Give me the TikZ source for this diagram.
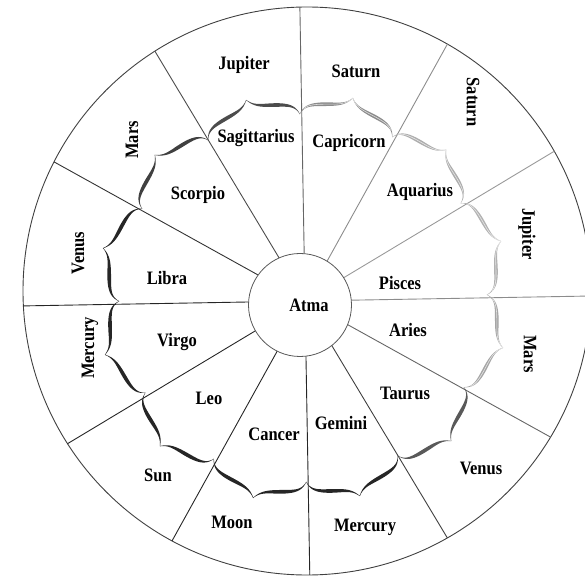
\documentclass[tikz,border=0pt]{standalone}
\usepackage{fontspec}
\setmainfont{Liberation Serif}
\usepackage{graphicx}
\newcommand{\stx}[1]{\scalebox{1}[1.15]{#1}}
\begin{document}
\begin{tikzpicture}[x=1pt,y=1pt,
  declare function={bd(\s)=min(\s,1-\s);
    bf(\s)=0.4*(1-exp(-bd(\s)/0.05))+0.4*bd(\s)+0.4*exp(-(0.5-bd(\s))/0.06);
    bw(\s)=0.5+3.2*sin(360*bd(\s));},
  lab/.style={font=\bfseries\fontsize{16.5}{18}\selectfont, inner sep=0pt},
  ring/.style={draw=black!75, line width=0.9pt}]
\useasboundingbox (0,0) rectangle (585,578);
\coordinate (oc) at (307,287);
\coordinate (ic) at (300,273);
\coordinate (hub) at (305,277);
% outer circle
\draw[ring] (oc) circle[radius=284];
% spokes
\begin{scope}
\clip (oc) circle[radius=284];
\foreach \t/\c in {0/black!45,30/black!40,60/black!45,90/black!60,120/black!70,150/black!80,180/black!85,210/black!85,240/black!85,270/black!85,300/black!75,330/black!60}
  \draw[ring, draw=\c] (hub) -- ++(\t+1:380);
\end{scope}
% inner circle
\node[circle, draw=black!65, fill=white, line width=0.8pt, minimum size=103pt, inner sep=0pt] (atmac) at (ic) {};
\node[lab] (atma) at (309,273) {\stx{Atma}};
% braces
\begin{scope}[shift={(303,280)}]
\foreach \a/\c/\h in {90/black!70/0, 60/black!45/1, 30/black!32/1, 0/black!30/1, -30/black!35/1, -60/black!65/0, -90/black!85/0, -120/black!85/0, -150/black!85/0, 180/black!85/0, 150/black!85/0, 120/black!75/0}{
  \fill[\c] plot[domain=0:1, samples=121] ({\a+1+30*\x}:{184+22*bf(\x)-bw(\x)/2})
     -- plot[domain=1:0, samples=121] ({\a+1+30*\x}:{184+22*bf(\x)+bw(\x)/2}) -- cycle;
  \ifnum\h=1
  \draw[line width=0.6pt, white!70!\c] plot[domain=0.04:0.96, samples=111] ({\a+1+30*\x}:{184+22*bf(\x)});
  \fi
}
\end{scope}
% signs
\node[lab] (sag) at (256,440) {\stx{Sagittarius}};
\node[lab] (cap) at (349,435) {\stx{Capricorn}};
\node[lab] (aqu) at (420,386) {\stx{Aquarius}};
\node[lab] (pis) at (400,295) {\stx{Pisces}};
\node[lab] (ari) at (408,248) {\stx{Aries}};
\node[lab] (tau) at (405,185) {\stx{Taurus}};
\node[lab] (gem) at (341,155) {\stx{Gemini}};
\node[lab] (can) at (274,144) {\stx{Cancer}};
\node[lab] (leo) at (209,180) {\stx{Leo}};
\node[lab] (vir) at (177,236) {\stx{Virgo}};
\node[lab] (lib) at (167,300) {\stx{Libra}};
\node[lab] (sco) at (198,383) {\stx{Scorpio}};
% planets
\node[lab] (p1) at (244,513) {\stx{Jupiter}};
\node[lab] (p2) at (356,507) {\stx{Saturn}};
\node[lab, rotate=-90] (p3) at (473,476) {\stx{Saturn}};
\node[lab, rotate=-90] (p4) at (527,344) {\stx{Jupiter}};
\node[lab, rotate=-90] (p5) at (530,224) {\stx{Mars}};
\node[lab] (p6) at (481,110) {\stx{Venus}};
\node[lab] (p7) at (365,51) {\stx{Mercury}};
\node[lab] (p8) at (232,56) {\stx{Moon}};
\node[lab] (p9) at (158,103) {\stx{Sun}};
\node[lab, rotate=90] (p10) at (90,230) {\stx{Mercury}};
\node[lab, rotate=90] (p11) at (78,325) {\stx{Venus}};
\node[lab, rotate=90] (p12) at (132,438) {\stx{Mars}};
\end{tikzpicture}
\end{document}
